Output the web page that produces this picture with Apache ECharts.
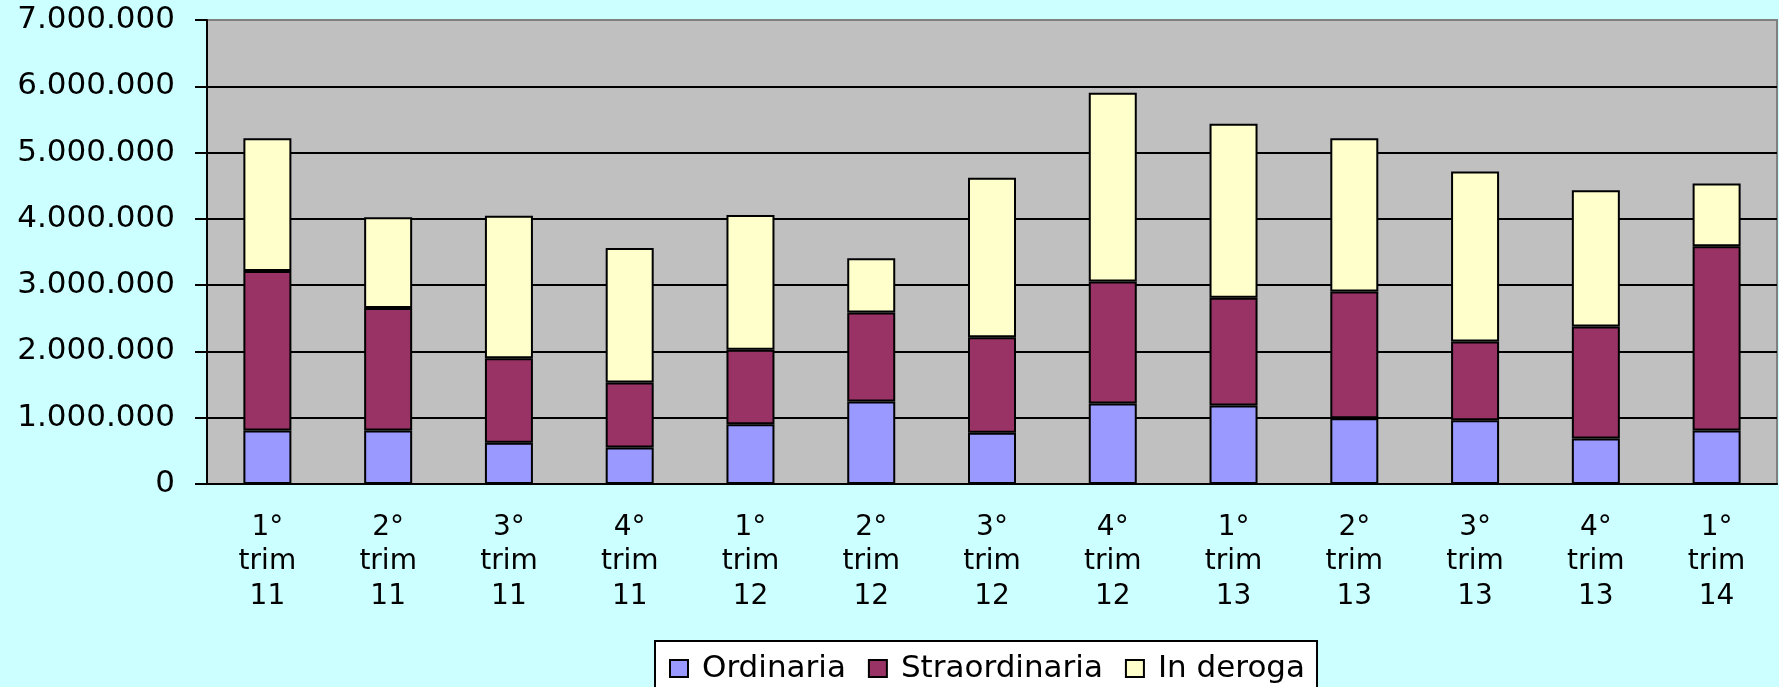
<!DOCTYPE html>
<html>
<head>
<meta charset="utf-8">
<script src="https://cdn.jsdelivr.net/npm/echarts@6/dist/echarts.min.js"></script>
<style>
    html, body { margin: 0; padding: 0; background: #CCFFFF; }
    #chart_con { width: 1779px; height: 687px; }
</style>
</head>
<body>
<div id="chart_con"></div>
<script>
// trimestri
const categories = [
    '1°\ntrim\n11', '2°\ntrim\n11', '3°\ntrim\n11', '4°\ntrim\n11',
    '1°\ntrim\n12', '2°\ntrim\n12', '3°\ntrim\n12', '4°\ntrim\n12',
    '1°\ntrim\n13', '2°\ntrim\n13', '3°\ntrim\n13', '4°\ntrim\n13',
    '1°\ntrim\n14'
];
const ordinaria = [806000, 806000, 624000, 549000, 901000, 1244000, 775000, 1213000, 1183000, 992000, 962000, 685000, 806000];
const straordinaria = [2406000, 1848000, 1274000, 982000, 1123000, 1344000, 1440000, 1843000, 1627000, 1913000, 1188000, 1692000, 2779000];
const inDeroga = [2005000, 1369000, 2150000, 2029000, 2034000, 816000, 2407000, 2845000, 2623000, 2312000, 2563000, 2054000, 947000];

const font = 'DejaVu Sans';

function fmt(v) {
    return String(v).replace(/\B(?=(\d{3})+(?!\d))/g, '.');
}

function barSeries(name, data, color) {
    return {
        name: name,
        type: 'bar',
        stack: 'tot',
        barWidth: 48,
        data: data,
        itemStyle: {
            color: color,
            borderColor: '#000',
            borderWidth: 2
        }
    };
}

const option = {
    backgroundColor: '#CCFFFF',
    animation: false,
    grid: {
        left: 207,
        right: 2,
        top: 20,
        bottom: 203,
        show: true,
        backgroundColor: '#C0C0C0',
        borderColor: '#808080',
        borderWidth: 2
    },
    legend: {
        data: ['Ordinaria', 'Straordinaria', 'In deroga'],
        left: 655,
        top: 641,
        padding: [12, 12, 10, 14],
        itemGap: 22,
        itemWidth: 18,
        itemHeight: 17,
        backgroundColor: '#FFFFFF',
        borderColor: '#000',
        borderWidth: 2,
        borderRadius: 0,
        icon: 'rect',
        itemStyle: { borderColor: '#000', borderWidth: 2 },
        textStyle: {
            fontFamily: font,
            fontSize: 31,
            color: '#000',
            lineHeight: 24,
            padding: [0, 0, 0, 9]
        }
    },
    xAxis: {
        type: 'category',
        data: categories,
        axisLine: { lineStyle: { color: '#000', width: 2 } },
        axisTick: { length: 9, lineStyle: { color: '#000', width: 2 } },
        axisLabel: {
            interval: 0,
            margin: 26,
            fontFamily: font,
            fontSize: 28,
            lineHeight: 34.5,
            color: '#000'
        }
    },
    yAxis: {
        type: 'value',
        min: 0,
        max: 7000000,
        interval: 1000000,
        axisLine: { show: true, lineStyle: { color: '#000', width: 2 } },
        axisTick: { show: true, length: 12, lineStyle: { color: '#000', width: 2 } },
        splitLine: {
            lineStyle: {
                color: ['#000', '#000', '#000', '#000', '#000', '#000', '#000', '#808080'],
                width: 2
            }
        },
        axisLabel: {
            margin: 32,
            fontFamily: font,
            fontSize: 31,
            color: '#000',
            formatter: fmt
        }
    },
    series: [
        barSeries('Ordinaria', ordinaria, '#9999FF'),
        barSeries('Straordinaria', straordinaria, '#993366'),
        barSeries('In deroga', inDeroga, '#FFFFCC')
    ]
};

const chart = echarts.init(document.getElementById('chart_con'));
chart.setOption(option);
window.addEventListener('resize', function () {
    chart.resize();
});
</script>
</body>
</html>
